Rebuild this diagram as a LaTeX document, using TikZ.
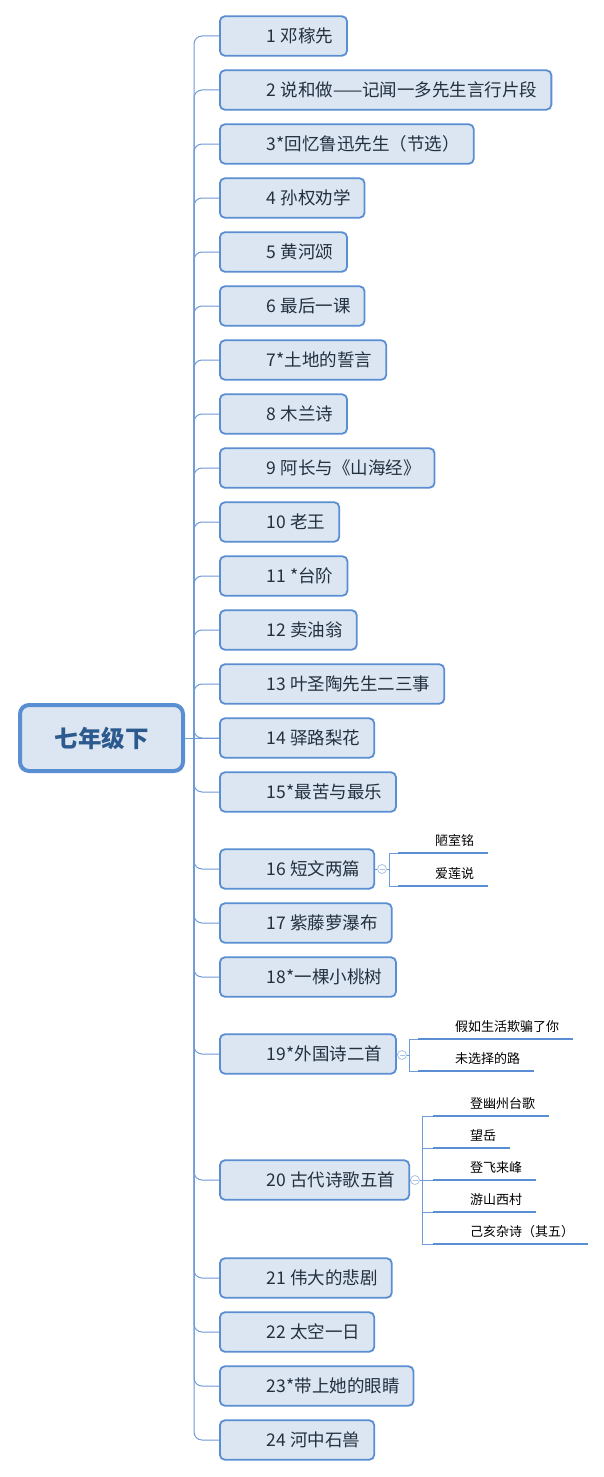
\documentclass[tikz,border=0pt]{standalone}
\usepackage{fontspec}
\setmainfont{Noto Sans CJK SC}
\definecolor{boxfill}{HTML}{DCE6F2}
\definecolor{boxline}{HTML}{5A8ED2}
\definecolor{branchline}{HTML}{6F9BD8}
\definecolor{itemtext}{HTML}{22303F}
\definecolor{roottext}{HTML}{2D5A8E}
\definecolor{foldline}{HTML}{A9C3E6}
\tikzset{
  rootbox/.style={draw=boxline, line width=4pt, fill=boxfill, rounded corners=9pt,
    minimum width=163pt, minimum height=66pt, text=roottext,
    font=\fontsize{23.5}{26}\selectfont\bfseries},
  topic/.style={draw=boxline, line width=1.8pt, fill=boxfill, rounded corners=5pt,
    minimum height=39.5pt, inner xsep=14pt, anchor=west, text=itemtext,
    font=\fontsize{17.5}{20}\selectfont},
  leaf/.style={anchor=south west, inner xsep=14pt, inner ysep=0pt, minimum height=25pt,
    text=black, font=\fontsize{13}{15}\selectfont},
  branch/.style={draw=branchline, line width=1pt},
  uline/.style={draw=boxline, line width=2.6pt},
  fold/.style={circle, draw=foldline, fill=white, line width=0.8pt, minimum size=9pt, inner sep=0pt,
    path picture={\draw[foldline, line width=0.8pt]
      ([xshift=-2.5pt]path picture bounding box.center) -- ([xshift=2.5pt]path picture bounding box.center);}}
}
\begin{document}
\begin{tikzpicture}[x=1pt,y=-1pt]
% canvas
\fill[white] (0,0) rectangle (603,1477);
\useasboundingbox (0,0) rectangle (603,1477);

% root and its trunk
\node[rootbox] (root) at (101.5,738) {七年级下};
\coordinate (trunk) at (194,738);

% lessons
\foreach \i/\y/\t in {1/36/1 邓稼先, 2/90/2 说和做——记闻一多先生言行片段, 3/144/3*回忆鲁迅先生（节选）,
    4/198/4 孙权劝学, 5/252/5 黄河颂, 6/306/6 最后一课, 7/360/7*土地的誓言, 8/414/8 木兰诗,
    9/468/9 阿长与《山海经》, 10/522/10 老王, 11/576/11 *台阶, 12/630/12 卖油翁,
    13/684/13 叶圣陶先生二三事, 14/738/14 驿路梨花, 15/792/15*最苦与最乐, 16/869/16 短文两篇,
    17/923/17 紫藤萝瀑布, 18/977/18*一棵小桃树, 19/1054/19*外国诗二首, 20/1180/20 古代诗歌五首,
    21/1278/21 伟大的悲剧, 22/1332/22 太空一日, 23/1386/23*带上她的眼睛, 24/1440/24 河中石兽}
  \node[topic] (b\i) at (219,\y) {\hspace*{33pt}\t};

\foreach \i in {1,...,24}
  \draw[branch, rounded corners=8pt] (trunk) |- (b\i.west);
\draw[branch] (root.east) -- (b14.west);

% 16 短文两篇
\node[fold] (k16) at (382,869) {};
\coordinate (j16) at (389,869);
\node[leaf] (s16a) at (398,853) {\hspace*{23pt}陋室铭};
\node[leaf] (s16b) at (398,886) {\hspace*{23pt}爱莲说};
\draw[branch] (b16.east) -- (k16.west);
\draw[branch] (k16.east) -- (j16);
\foreach \s in {s16a,s16b} {
  \draw[branch] (j16) |- (\s.south west);
  \draw[uline] (\s.south west) -- (\s.south east);
}

% 19 外国诗二首
\node[fold] (k19) at (402,1055) {};
\coordinate (j19) at (409,1055);
\node[leaf] (s19a) at (418,1039) {\hspace*{23pt}假如生活欺骗了你};
\node[leaf] (s19b) at (418,1071) {\hspace*{23pt}未选择的路};
\draw[branch] (b19.east) -- (k19.west);
\draw[branch] (k19.east) -- (j19);
\foreach \s in {s19a,s19b} {
  \draw[branch] (j19) |- (\s.south west);
  \draw[uline] (\s.south west) -- (\s.south east);
}

% 20 古代诗歌五首
\node[fold] (k20) at (415,1180) {};
\coordinate (j20) at (422,1180);
\foreach \s/\y/\t in {a/1116/登幽州台歌, b/1148/望岳, c/1180/登飞来峰, d/1212/游山西村, e/1244/己亥杂诗（其五）} {
  \node[leaf] (s20\s) at (433,\y) {\hspace*{23pt}\t};
  \draw[branch] (j20) |- (s20\s.south west);
  \draw[uline] (s20\s.south west) -- (s20\s.south east);
}
\draw[branch] (b20.east) -- (k20.west);
\draw[branch] (k20.east) -- (j20);
\end{tikzpicture}
\end{document}
